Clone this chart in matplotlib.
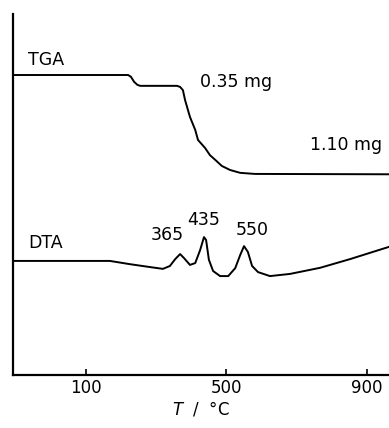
import numpy as np
import matplotlib
matplotlib.use('Agg')
import matplotlib.pyplot as plt

plt.rcParams['font.family'] = ['DejaVu Sans']
plt.rcParams['mathtext.fontset'] = 'dejavusans'

# TGA trace (temperature in degC, signal in arbitrary units)
tga_t = [-108, 220, 228, 237, 246, 254, 359, 368, 376, 382, 396, 411, 419, 439, 453, 468, 487, 510, 539, 581, 963]
tga_y = [83.1, 83.1, 82.6, 81.2, 80.4, 80.1, 80.1, 79.8, 78.9, 76.2, 71.5, 67.9, 65.1, 62.9, 60.9, 59.6, 57.9, 56.8, 56.0, 55.7, 55.6]

# DTA trace
dta_t = [-108, 168, 225, 282, 319, 339, 354, 368, 379, 396, 411, 425, 436, 442, 450, 462,
         482, 505, 525, 539, 550, 561, 573, 590, 624, 681, 767, 852, 963]
dta_y = [31.6, 31.6, 30.7, 29.9, 29.4, 30.2, 32.1, 33.5, 32.4, 30.5, 31.0, 34.6, 38.2, 37.4, 31.9, 28.8,
         27.4, 27.4, 29.6, 33.2, 35.7, 34.1, 30.2, 28.5, 27.4, 28.0, 29.7, 32.1, 35.5]

peak_t = [365, 435, 550]
peak_lbl_x = [331, 436, 573]
peak_lbl_y = [38.8, 42.9, 40.2]
x_ticks = [100, 500, 900]

fig = plt.figure(figsize=(3.89, 4.28), dpi=100)
ax = fig.add_axes([13 / 389, 53 / 428, 376 / 389, 361 / 428])

ax.plot(tga_t, tga_y, color='black', lw=1.4)
ax.plot(dta_t, dta_y, color='black', lw=1.4)

fs = 12.5
ax.text(-65, 87.3, 'TGA', fontsize=fs, va='center', ha='left')
ax.text(425, 81.2, '0.35 mg', fontsize=fs, va='center', ha='left')
ax.text(738, 63.7, '1.10 mg', fontsize=fs, va='center', ha='left')
ax.text(-65, 36.6, 'DTA', fontsize=fs, va='center', ha='left')
for t, xl, yl in zip(peak_t, peak_lbl_x, peak_lbl_y):
    ax.text(xl, yl, str(t), fontsize=fs, va='center', ha='center')

ax.set_xlim(-108, 963)
ax.set_ylim(0, 100)
ax.set_xticks(x_ticks)
ax.set_yticks([])
ax.tick_params(axis='x', direction='in', length=4, width=1.2, pad=3, labelsize=12)
for s in ['top', 'right']:
    ax.spines[s].set_visible(False)
for s in ['left', 'bottom']:
    ax.spines[s].set_linewidth(1.6)
ax.set_xlabel(r'$T$  /  °C', fontsize=12, labelpad=2)

fig.savefig('out.png', dpi=100)
